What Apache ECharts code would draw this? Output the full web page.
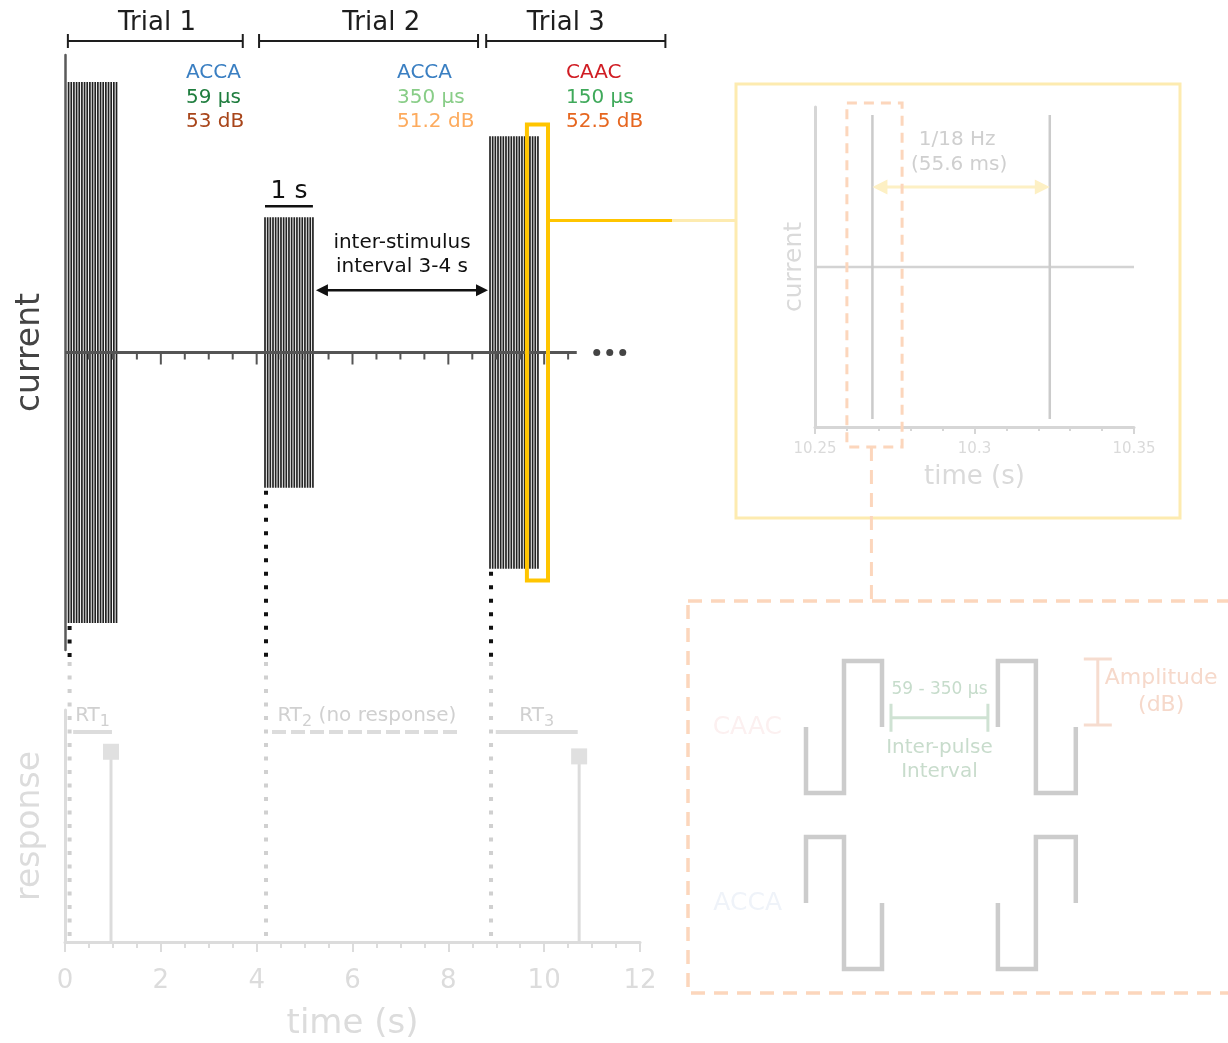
<!DOCTYPE html>
<html>
<head>
<meta charset="utf-8">
<script src="https://cdn.jsdelivr.net/npm/echarts@6/dist/echarts.min.js"></script>
<style>
  html, body { margin: 0; padding: 0; background: #fff; }
  #chart { width: 1228px; height: 1043px; }
</style>
</head>
<body>
<div id="chart"></div>
<script>
// ---------------- stimulation protocol ----------------
const TRIAL_NAMES = ['Trial 1', 'Trial 2', 'Trial 3'];
const TRIAL_START_S = [0.06, 4.05, 8.79];
const TRIAL_END_S = [3.71, 8.62, 12.53];
const TRIAL_POLARITY = ['ACCA', 'ACCA', 'CAAC'];
const TRIAL_IPI_US = [59, 350, 150];
const TRIAL_LEVEL_DB = [53, 51.2, 52.5];

// pulse trains: onset, relative amplitude, pulse times within a 1 s train (18 Hz)
const TRAIN_ONSET_S = [0.075, 4.174, 8.87];
const TRAIN_AMPLITUDE = [1.0, 0.5, 0.8];
const PULSE_OFFSETS_S = [0, 0.0556, 0.1111, 0.1667, 0.2222, 0.2778, 0.3333, 0.3889, 0.4444,
  0.5, 0.5556, 0.6111, 0.6667, 0.7222, 0.7778, 0.8333, 0.8889, 0.9444, 1.0];
const SCALE_BAR_S = 1;
const ISI_LABEL = ['inter-stimulus', 'interval 3-4 s'];

// stimulus time axis
const TOP_TICKS_S = [0.5, 1, 1.5, 2, 2.5, 3, 3.5, 4, 4.5, 5, 5.5, 6, 6.5, 7, 7.5, 8, 8.5, 9, 9.5, 10, 10.5];
const TOP_AXIS_END_S = 10.68;

// behavioural responses
const RESPONSE_TIME_S = [0.96, null, 10.73];
const RESPONSE_LEVEL = [0.82, null, 0.80];
const RT_NAME = ['RT', 'RT', 'RT'];
const RT_INDEX = ['1', '2', '3'];
const RT_NOTE = ['', ' (no response)', ''];
const RT_WINDOW_START_S = [0.17, 4.32, 8.99];
const RT_WINDOW_END_S = [0.98, 8.28, 10.70];

// zoomed view of two consecutive pulses
const ZOOM_WINDOW_S = [9.64, 10.08];
const ZOOM_WINDOW_HALF_HEIGHT = 0.843;
const ZOOM_RANGE_S = [10.25, 10.35];
const ZOOM_PULSE_TIMES_S = [10.268, 10.3236];
const ZOOM_PULSE_AMPLITUDE = [0.95, 0.95];
const PERIOD_LABEL = ['1/18 Hz', '(55.6 ms)'];
const ZOOM_SELECT_S = [10.26, 10.2773];

// single biphasic pulse pairs (phase units, normalised amplitude)
const CAAC_PULSES = [
  [[0, 0], [0, -1], [1, -1], [1, 1], [2, 1], [2, 0]],
  [[5.05, 0], [5.05, 1], [6.05, 1], [6.05, -1], [7.1, -1], [7.1, 0]]
];
const ACCA_PULSES = [
  [[0, 0], [0, 1], [1, 1], [1, -1], [2, -1], [2, 0]],
  [[5.05, 0], [5.05, -1], [6.05, -1], [6.05, 1], [7.1, 1], [7.1, 0]]
];
const IPI_SPAN = [2, 5.05];
const IPI_LABEL = ['59 - 350 µs', 'Inter-pulse', 'Interval'];
const AMPLITUDE_SPAN = [0, 1];
const AMPLITUDE_LABEL = ['Amplitude', '(dB)'];

// ---------------- layout & styles ----------------
const FONT = '"DejaVu Sans", Verdana, sans-serif';
const MAIN_Y = [-1.1, 1.1];
const LAYOUT = {
  trialTitleX_S: [1.92, 6.6, 10.45],
  infoX_S: [2.525, 6.93, 10.455],
  isiY: 0.23,
  zoomFrame: { x: 736, y: 84, w: 444, h: 434 },
  waveFrame: { x: 688, y: 601, w: 560, h: 392 }
};
const COLORS = {
  ink: '#1e1e1e',
  axis: '#555555',
  pulse: '#222222',
  polarity: { ACCA: '#3a7fc2', CAAC: '#d01c23' },
  ipi: { 59: '#1f7d3e', 150: '#3fa95a', 350: '#88cd87' },
  level: { 53: '#a8451a', 51.2: '#fdab5e', 52.5: '#e6661f' },
  faint: '#dcdcdc',
  faintText: '#d0d0d0',
  gold: '#ffc500',
  paleGold: '#fdebb0',
  peach: '#fcd6bc',
  wave: '#cccccc'
};

const measureCtx = document.createElement('canvas').getContext('2d');
function textWidth(str, size) {
  measureCtx.font = size + 'px ' + FONT;
  return measureCtx.measureText(str).width;
}
function txt(str, x, y, size, color, align, vAlign) {
  const a = align || 'center', v = vAlign || 'middle';
  return { type: 'text', style: { text: str, x: x, y: y, fill: color, font: size + 'px ' + FONT,
    textAlign: a, textVerticalAlign: v, align: a, verticalAlign: v } };
}
function seg(x1, y1, x2, y2, color, width, dash) {
  const s = { stroke: color, lineWidth: width, fill: null };
  if (dash) s.lineDash = dash;
  return { type: 'line', shape: { x1: x1, y1: y1, x2: x2, y2: y2 }, style: s };
}
function head(tipX, tipY, dir, len, half, color) {
  return { type: 'polygon', shape: { points: [[tipX, tipY], [tipX - dir * len, tipY - half], [tipX - dir * len, tipY + half]] },
    style: { fill: color } };
}

// ---------------- series data ----------------
const pulseData = [];
TRAIN_ONSET_S.forEach(function (on, i) {
  PULSE_OFFSETS_S.forEach(function (off) { pulseData.push([on + off, TRAIN_AMPLITUDE[i]]); });
});
const trainEnd = TRAIN_ONSET_S.map(function (on) { return on + PULSE_OFFSETS_S[PULSE_OFFSETS_S.length - 1]; });

const series = [];

// trial brackets, titles and stimulus parameters
series.push({
  type: 'custom', xAxisIndex: 0, yAxisIndex: 0, silent: true,
  data: TRIAL_NAMES.map(function (n, i) { return [TRIAL_START_S[i], TRIAL_END_S[i], i]; }),
  renderItem: function (params, api) {
    const i = api.value(2);
    const a = api.coord([api.value(0), MAIN_Y[1]]);
    const b = api.coord([api.value(1), MAIN_Y[1]]);
    const yB = a[1] - 14, yT = a[1] - 32;
    const cx = api.coord([LAYOUT.trialTitleX_S[i], 0])[0];
    const ix = api.coord([LAYOUT.infoX_S[i], 0])[0];
    return { type: 'group', children: [
      seg(a[0], yB, b[0], yB, COLORS.ink, 2),
      seg(a[0], yB - 7, a[0], yB + 7, COLORS.ink, 2),
      seg(b[0], yB - 7, b[0], yB + 7, COLORS.ink, 2),
      txt(TRIAL_NAMES[i], cx, yT, 26, COLORS.ink),
      txt(TRIAL_POLARITY[i], ix, a[1] + 18, 20, COLORS.polarity[TRIAL_POLARITY[i]], 'left'),
      txt(TRIAL_IPI_US[i] + ' µs', ix, a[1] + 43, 20, COLORS.ipi[TRIAL_IPI_US[i]], 'left'),
      txt(TRIAL_LEVEL_DB[i] + ' dB', ix, a[1] + 67, 20, COLORS.level[TRIAL_LEVEL_DB[i]], 'left')
    ] };
  }
});

// individual pulses of each train
series.push({
  type: 'custom', xAxisIndex: 0, yAxisIndex: 0, silent: true,
  data: pulseData,
  renderItem: function (params, api) {
    const p1 = api.coord([api.value(0), api.value(1)]);
    const p2 = api.coord([api.value(0), -api.value(1)]);
    return seg(p1[0], p1[1], p2[0], p2[1], COLORS.pulse, 1.7);
  }
});

// onset guides running down towards the response panel
series.push({
  type: 'custom', xAxisIndex: 0, yAxisIndex: 0, silent: true,
  data: TRAIN_ONSET_S.map(function (t, i) { return [t, TRAIN_AMPLITUDE[i]]; }),
  renderItem: function (params, api) {
    const p = api.coord([api.value(0), -api.value(1)]);
    const bottom = api.coord([api.value(0), MAIN_Y[0]])[1] + 8;
    return seg(p[0] + 1, p[1] + 3, p[0] + 1, bottom, '#111', 4, [4, 9.5]);
  }
});

// stimulus time axis: baseline, ellipsis, ticks
series.push({
  type: 'custom', xAxisIndex: 0, yAxisIndex: 0, silent: true,
  data: [[0, TOP_AXIS_END_S]],
  renderItem: function (params, api) {
    const a = api.coord([api.value(0), 0]);
    const b = api.coord([api.value(1), 0]);
    const kids = [seg(a[0], a[1], b[0], b[1], COLORS.axis, 3)];
    [20, 33, 46].forEach(function (dx) {
      kids.push({ type: 'circle', shape: { cx: b[0] + dx, cy: b[1], r: 3.5 }, style: { fill: '#444' } });
    });
    return { type: 'group', children: kids };
  }
});
series.push({
  type: 'custom', xAxisIndex: 0, yAxisIndex: 0, silent: true,
  data: TOP_TICKS_S.map(function (t) { return [t]; }),
  renderItem: function (params, api) {
    const t = api.value(0);
    const p = api.coord([t, 0]);
    const major = Math.abs(t / 2 - Math.round(t / 2)) < 1e-6;
    return seg(p[0], p[1], p[0], p[1] + (major ? 12 : 7), COLORS.axis, 2);
  }
});

// 1 s scale bar above the second train
series.push({
  type: 'custom', xAxisIndex: 0, yAxisIndex: 0, silent: true,
  data: [[TRAIN_ONSET_S[1], TRAIN_ONSET_S[1] + SCALE_BAR_S, TRAIN_AMPLITUDE[1]]],
  renderItem: function (params, api) {
    const a = api.coord([api.value(0), api.value(2)]);
    const b = api.coord([api.value(1), api.value(2)]);
    const y = a[1] - 11;
    return { type: 'group', children: [
      seg(a[0], y, b[0], y, '#111', 2.5),
      txt(SCALE_BAR_S + ' s', (a[0] + b[0]) / 2, y - 15, 25, '#111')
    ] };
  }
});

// inter-stimulus interval arrow
series.push({
  type: 'custom', xAxisIndex: 0, yAxisIndex: 0, silent: true,
  data: [[trainEnd[1], TRAIN_ONSET_S[2]]],
  renderItem: function (params, api) {
    const a = api.coord([api.value(0), LAYOUT.isiY]);
    const b = api.coord([api.value(1), LAYOUT.isiY]);
    const x1 = a[0] + 3, x2 = b[0] - 2, y = a[1];
    const mx = (x1 + x2) / 2;
    return { type: 'group', children: [
      seg(x1 + 8, y, x2 - 8, y, '#111', 2.5),
      head(x1, y, -1, 12, 6, '#111'),
      head(x2, y, 1, 12, 6, '#111'),
      txt(ISI_LABEL[0], mx, y - 47, 20, '#111'),
      txt(ISI_LABEL[1], mx, y - 23, 20, '#111')
    ] };
  }
});

// highlighted window and its link to the zoomed view
series.push({
  type: 'custom', xAxisIndex: 0, yAxisIndex: 0, silent: true, z: 10,
  data: [[ZOOM_WINDOW_S[0], ZOOM_WINDOW_S[1], ZOOM_WINDOW_HALF_HEIGHT]],
  renderItem: function (params, api) {
    const a = api.coord([api.value(0), api.value(2)]);
    const b = api.coord([api.value(1), -api.value(2)]);
    const yLink = api.coord([api.value(1), 0.488])[1];
    const fx = LAYOUT.zoomFrame.x;
    return { type: 'group', children: [
      { type: 'rect', shape: { x: a[0], y: a[1], width: b[0] - a[0], height: b[1] - a[1] },
        style: { fill: null, stroke: COLORS.gold, lineWidth: 4, blend: 'multiply' } },
      seg(b[0] + 2, yLink, fx - 64, yLink, COLORS.gold, 3),
      seg(fx - 64, yLink, fx, yLink, COLORS.paleGold, 3)
    ] };
  }
});

// ---- response panel ----
series.push({
  type: 'custom', xAxisIndex: 1, yAxisIndex: 1, silent: true,
  data: TRAIN_ONSET_S.map(function (t) { return [t]; }),
  renderItem: function (params, api) {
    const base = api.coord([api.value(0), 0]);
    const top = api.coord([api.value(0), 1])[1] - 48;
    return seg(base[0] + 1, top, base[0] + 1, base[1] - 2, '#d0d0d0', 4, [4, 9.5]);
  }
});
series.push({
  type: 'custom', xAxisIndex: 1, yAxisIndex: 1, silent: true,
  data: RESPONSE_TIME_S.map(function (t, i) { return [t, RESPONSE_LEVEL[i]]; })
    .filter(function (d) { return d[0] !== null; }),
  renderItem: function (params, api) {
    const base = api.coord([api.value(0), 0]);
    const tip = api.coord([api.value(0), api.value(1)]);
    return { type: 'group', children: [
      seg(base[0], base[1], tip[0], tip[1], COLORS.faint, 3),
      { type: 'rect', shape: { x: tip[0] - 8, y: tip[1] - 8, width: 16, height: 16 }, style: { fill: '#e0e0e0' } }
    ] };
  }
});
series.push({
  type: 'custom', xAxisIndex: 1, yAxisIndex: 1, silent: true,
  data: RT_NAME.map(function (n, i) { return [RT_WINDOW_START_S[i], RT_WINDOW_END_S[i], i]; }),
  renderItem: function (params, api) {
    const i = api.value(2);
    const a = api.coord([api.value(0), 1]);
    const b = api.coord([api.value(1), 1]);
    const y = a[1] + 22;
    const answered = RESPONSE_TIME_S[i] !== null;
    const w1 = textWidth(RT_NAME[i], 20), w2 = textWidth(RT_INDEX[i], 16), w3 = textWidth(RT_NOTE[i], 20);
    const x0 = (a[0] + b[0]) / 2 - (w1 + w2 + w3) / 2;
    const ty = y - 16;
    return { type: 'group', children: [
      seg(a[0], y, b[0], y, COLORS.faint, 4, answered ? null : [14, 5]),
      txt(RT_NAME[i], x0, ty, 20, COLORS.faintText, 'left'),
      txt(RT_INDEX[i], x0 + w1, ty + 6, 16, COLORS.faintText, 'left'),
      txt(RT_NOTE[i], x0 + w1 + w2, ty, 20, COLORS.faintText, 'left')
    ] };
  }
});

// ---- zoomed view ----
series.push({
  type: 'custom', xAxisIndex: 2, yAxisIndex: 2, silent: true,
  data: [[ZOOM_RANGE_S[0], ZOOM_RANGE_S[1]]],
  renderItem: function (params, api) {
    const a = api.coord([api.value(0), 0]);
    const b = api.coord([api.value(1), 0]);
    return seg(a[0], a[1], b[0], b[1], '#d3d3d3', 2.5);
  }
});
series.push({
  type: 'custom', xAxisIndex: 2, yAxisIndex: 2, silent: true,
  data: ZOOM_PULSE_TIMES_S.map(function (t, i) { return [t, ZOOM_PULSE_AMPLITUDE[i]]; }),
  renderItem: function (params, api) {
    const p1 = api.coord([api.value(0), api.value(1)]);
    const p2 = api.coord([api.value(0), -api.value(1)]);
    return seg(p1[0], p1[1], p2[0], p2[1], '#cbcbcb', 2.5);
  }
});
series.push({
  type: 'custom', xAxisIndex: 2, yAxisIndex: 2, silent: true,
  data: [[ZOOM_PULSE_TIMES_S[0], ZOOM_PULSE_TIMES_S[1]]],
  renderItem: function (params, api) {
    const a = api.coord([api.value(0), 0.5]);
    const b = api.coord([api.value(1), 0.5]);
    const mx = (a[0] + b[0]) / 2;
    return { type: 'group', children: [
      seg(a[0] + 10, a[1], b[0] - 10, b[1], '#fdf0c4', 3),
      head(a[0], a[1], -1, 15, 7.5, '#fdf0c4'),
      head(b[0], b[1], 1, 15, 7.5, '#fdf0c4'),
      txt(PERIOD_LABEL[0], mx - 4, a[1] - 47, 20, '#cfcfcf'),
      txt(PERIOD_LABEL[1], mx - 2, a[1] - 22, 20, '#cfcfcf')
    ] };
  }
});
series.push({
  type: 'custom', xAxisIndex: 2, yAxisIndex: 2, silent: true, z: 5,
  data: [[ZOOM_SELECT_S[0], ZOOM_SELECT_S[1], ZOOM_PULSE_TIMES_S[0]]],
  renderItem: function (params, api) {
    const a = api.coord([api.value(0), 1]);
    const b = api.coord([api.value(1), -1]);
    const top = a[1] - 4, bottom = b[1] + 20;
    const px = api.coord([api.value(2), 0])[0] - 1;
    return { type: 'group', children: [
      { type: 'rect', shape: { x: a[0], y: top, width: b[0] - a[0], height: bottom - top },
        style: { fill: null, stroke: COLORS.peach, lineWidth: 3, lineDash: [10, 7] } },
      seg(px, bottom, px, LAYOUT.waveFrame.y, COLORS.peach, 3, [14, 9])
    ] };
  }
});

// ---- pulse shape schematic ----
function waveSeries(pulses, gridIdx, label, labelColor) {
  return {
    type: 'custom', xAxisIndex: gridIdx, yAxisIndex: gridIdx, silent: true,
    data: pulses.map(function (p, i) { return [i]; }),
    renderItem: function (params, api) {
      const pts = pulses[api.value(0)].map(function (pt) { return api.coord(pt); });
      const kids = [{ type: 'polyline', shape: { points: pts },
        style: { fill: null, stroke: COLORS.wave, lineWidth: 4.5, lineJoin: 'miter' } }];
      if (params.dataIndex === 0) {
        const z = api.coord([0, 0]);
        kids.push(txt(label, z[0] - 24, z[1], 25, labelColor, 'right'));
      }
      return { type: 'group', children: kids };
    }
  };
}
series.push(waveSeries(CAAC_PULSES, 3, 'CAAC', '#fcf0f0'));
series.push(waveSeries(ACCA_PULSES, 4, 'ACCA', '#eff3f9'));

series.push({
  type: 'custom', xAxisIndex: 3, yAxisIndex: 3, silent: true,
  data: [[IPI_SPAN[0], IPI_SPAN[1]]],
  renderItem: function (params, api) {
    const a = api.coord([api.value(0), 0.14]);
    const b = api.coord([api.value(1), 0.14]);
    const x1 = a[0] + 9, x2 = b[0] - 10, y = a[1], mx = (x1 + x2) / 2;
    const c = '#cfe2d3';
    return { type: 'group', children: [
      seg(x1, y, x2, y, c, 3),
      seg(x1, y - 14, x1, y + 14, c, 3),
      seg(x2, y - 14, x2, y + 14, c, 3),
      txt(IPI_LABEL[0], mx, y - 28, 17, '#c6dccb'),
      txt(IPI_LABEL[1], mx, y + 30, 20, '#c8dccc'),
      txt(IPI_LABEL[2], mx, y + 54, 20, '#c8dccc')
    ] };
  }
});
series.push({
  type: 'custom', xAxisIndex: 3, yAxisIndex: 3, silent: true,
  data: [[CAAC_PULSES[1][5][0], AMPLITUDE_SPAN[0], AMPLITUDE_SPAN[1]]],
  renderItem: function (params, api) {
    const lo = api.coord([api.value(0), api.value(1)]);
    const hi = api.coord([api.value(0), api.value(2)]);
    const x = lo[0] + 22, c = '#f6dccf';
    const mid = (lo[1] + hi[1]) / 2;
    const w = textWidth(AMPLITUDE_LABEL[0], 22);
    return { type: 'group', children: [
      seg(x, hi[1] - 2, x, lo[1] - 2, c, 3),
      seg(x - 14, hi[1] - 2, x + 14, hi[1] - 2, c, 3),
      seg(x - 14, lo[1] - 2, x + 14, lo[1] - 2, c, 3),
      txt(AMPLITUDE_LABEL[0], x + 7, mid - 16, 22, '#f6d9cb', 'left'),
      txt(AMPLITUDE_LABEL[1], x + 7 + w / 2, mid + 11, 22, '#f6d9cb')
    ] };
  }
});

// ---------------- axes ----------------
const hiddenX = function (g, min, max) { return { gridIndex: g, type: 'value', min: min, max: max, show: false }; };
const hiddenY = function (g, min, max) { return { gridIndex: g, type: 'value', min: min, max: max, show: false }; };

const option = {
  animation: false,
  backgroundColor: '#ffffff',
  textStyle: { fontFamily: FONT },
  grid: [
    { left: 65, top: 55, width: 575, height: 595, outerBoundsMode: 'none' },
    { left: 65, top: 710, width: 575, height: 232, outerBoundsMode: 'none' },
    { left: 815, top: 107, width: 319, height: 320, outerBoundsMode: 'none' },
    { left: 806, top: 661, width: 304, height: 132, outerBoundsMode: 'none' },
    { left: 806, top: 837, width: 304, height: 132, outerBoundsMode: 'none' }
  ],
  xAxis: [
    hiddenX(0, 0, 12),
    {
      gridIndex: 1, type: 'value', min: 0, max: 12, interval: 2,
      name: 'time (s)', nameLocation: 'middle', nameGap: 65,
      nameTextStyle: { fontSize: 34, color: COLORS.faint, fontFamily: FONT },
      axisLine: { show: true, onZero: false, lineStyle: { color: COLORS.faint, width: 3 } },
      axisTick: { show: true, length: 10, lineStyle: { color: COLORS.faint, width: 2 } },
      minorTick: { show: true, splitNumber: 4, length: 6, lineStyle: { color: COLORS.faint, width: 2 } },
      axisLabel: { color: COLORS.faint, fontSize: 26, margin: 26, fontFamily: FONT },
      splitLine: { show: false }, minorSplitLine: { show: false }
    },
    {
      gridIndex: 2, type: 'value', min: ZOOM_RANGE_S[0], max: ZOOM_RANGE_S[1], interval: 0.05,
      name: 'time (s)', nameLocation: 'middle', nameGap: 37,
      nameTextStyle: { fontSize: 26, color: '#dadada', fontFamily: FONT },
      axisLine: { show: true, onZero: false, lineStyle: { color: '#d6d6d6', width: 3 } },
      axisTick: { show: true, length: 7, lineStyle: { color: '#d6d6d6', width: 2 } },
      minorTick: { show: true, splitNumber: 5, length: 4, lineStyle: { color: '#d6d6d6', width: 2 } },
      axisLabel: { color: '#dadada', fontSize: 15, margin: 15, fontFamily: FONT },
      splitLine: { show: false }, minorSplitLine: { show: false }
    },
    hiddenX(3, 0, 8),
    hiddenX(4, 0, 8)
  ],
  yAxis: [
    {
      gridIndex: 0, type: 'value', min: MAIN_Y[0], max: MAIN_Y[1],
      name: 'current', nameLocation: 'middle', nameGap: 18, nameRotate: 90,
      nameTextStyle: { fontSize: 33, color: '#444', fontFamily: FONT },
      axisLine: { show: true, onZero: false, lineStyle: { color: '#5a5a5a', width: 2.5 } },
      axisTick: { show: false }, axisLabel: { show: false }, splitLine: { show: false }
    },
    {
      gridIndex: 1, type: 'value', min: 0, max: 1,
      name: 'response', nameLocation: 'middle', nameGap: 18, nameRotate: 90,
      nameTextStyle: { fontSize: 33, color: COLORS.faint, fontFamily: FONT },
      axisLine: { show: true, onZero: false, lineStyle: { color: COLORS.faint, width: 3 } },
      axisTick: { show: false }, axisLabel: { show: false }, splitLine: { show: false }
    },
    {
      gridIndex: 2, type: 'value', min: -1, max: 1,
      name: 'current', nameLocation: 'middle', nameGap: 8, nameRotate: 90,
      nameTextStyle: { fontSize: 25, color: '#dadada', fontFamily: FONT },
      axisLine: { show: true, onZero: false, lineStyle: { color: '#d6d6d6', width: 3 } },
      axisTick: { show: false }, axisLabel: { show: false }, splitLine: { show: false }
    },
    hiddenY(3, -1, 1),
    hiddenY(4, -1, 1)
  ],
  graphic: [
    { type: 'rect', silent: true, z: 0,
      shape: { x: LAYOUT.zoomFrame.x, y: LAYOUT.zoomFrame.y, width: LAYOUT.zoomFrame.w, height: LAYOUT.zoomFrame.h },
      style: { fill: null, stroke: COLORS.paleGold, lineWidth: 3 } },
    { type: 'rect', silent: true, z: 0,
      shape: { x: LAYOUT.waveFrame.x, y: LAYOUT.waveFrame.y, width: LAYOUT.waveFrame.w, height: LAYOUT.waveFrame.h },
      style: { fill: null, stroke: COLORS.peach, lineWidth: 3.5, lineDash: [14, 9] } }
  ],
  series: series
};

const chart = echarts.init(document.getElementById('chart'), null, { renderer: 'canvas' });
chart.setOption(option);
</script>
</body>
</html>
